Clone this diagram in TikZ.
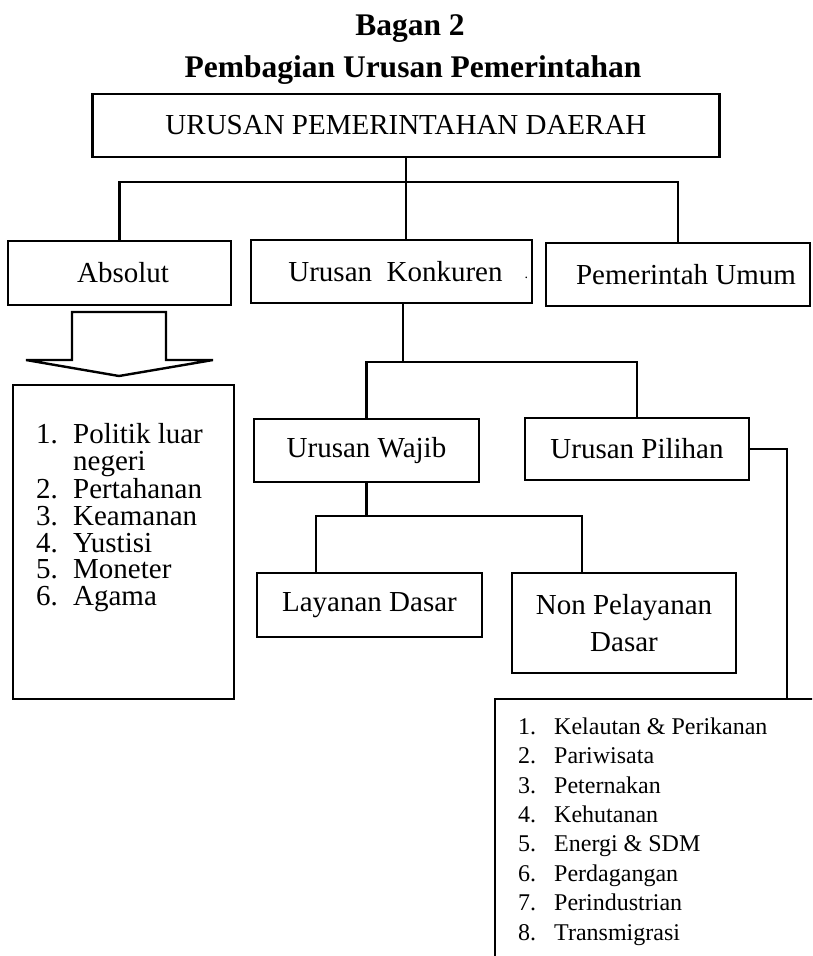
\documentclass[tikz,border=0pt]{standalone}
\usepackage{fontspec}
\setmainfont{Liberation Serif}
\usetikzlibrary{positioning}

\begin{document}
\begin{tikzpicture}[x=1pt, y=-1pt,
        kotak/.style={draw, line width=2.4pt, inner sep=0pt, font=\fontsize{29}{30}\selectfont},
        daftar/.style={draw, line width=2.4pt, inner sep=0pt, anchor=north west},
        garis/.style={line width=2.4pt}
    ]
        \useasboundingbox (0,0) rectangle (812,956);
        \clip (0,0) rectangle (812,956);

        % --- judul ---
        \node[anchor=base, font=\fontsize{31.5}{32}\selectfont\bfseries] (judul) at (410,35) {Bagan 2};
        \node[anchor=base, font=\fontsize{31.5}{32}\selectfont\bfseries] (subjudul) at (413,77) {Pembagian Urusan Pemerintahan};

        % --- kotak-kotak ---
        \node[kotak, minimum width=627pt, minimum height=63pt] (daerah) at (406,125.5) {URUSAN PEMERINTAHAN DAERAH};
        \node[kotak, minimum width=223pt, minimum height=64pt] (absolut) at (119.5,273) {\hspace*{7pt}Absolut};
        \node[kotak, minimum width=281pt, minimum height=63pt] (konkuren) at (391.5,271.5)
            {\hspace*{8pt}Urusan\ \ Konkuren\rlap{\hspace{22pt}\raisebox{3pt}{\fontsize{14}{14}\selectfont.}}};
        \node[kotak, minimum width=264pt, minimum height=63pt] (umum) at (678,274.5) {\hspace*{16pt}Pemerintah Umum};
        \node[kotak, minimum width=225pt, minimum height=63pt] (wajib) at (366.5,450.5) {Urusan Wajib};
        \node[kotak, minimum width=224pt, minimum height=62pt] (pilihan) at (637,449) {Urusan Pilihan};
        \node[kotak, minimum width=225pt, minimum height=64pt] (layanan) at (369.5,605) {Layanan Dasar};
        \node[kotak, minimum width=224pt, minimum height=100pt, align=center,
              font=\fontsize{29}{37}\selectfont] (nonlayanan) at (624,623) {Non Pelayanan\\Dasar};

        % --- daftar urusan ---
        \node[daftar, text height=58pt, text depth=256pt, font=\fontsize{29}{26}\selectfont] (isiabsolut) at (12,384)
            {\begin{tabular}[t]{@{\hspace{23pt}}p{37pt}@{}p{161pt}@{}}
                1. & Politik luar\\
                   & negeri\\
                2. & Pertahanan\\
                3. & Keamanan\\
                4. & Yustisi\\
                5. & Moneter\\
                6. & Agama
            \end{tabular}};
        \node[daftar, text height=35pt, text depth=262pt, font=\fontsize{24}{29.4}\selectfont] (isipilihan) at (494,698)
            {\begin{tabular}[t]{@{\hspace{23pt}}p{36pt}@{}p{320pt}@{}}
                1. & Kelautan \& Perikanan\\
                2. & Pariwisata\\
                3. & Peternakan\\
                4. & Kehutanan\\
                5. & Energi \& SDM\\
                6. & Perdagangan\\
                7. & Perindustrian\\
                8. & Transmigrasi
            \end{tabular}};

        % --- panah blok ---
        \draw[garis, line join=miter] (72,312) -- (166,312) -- (166,360) -- (213,360)
            -- (119,376) -- (26,360) -- (72,360) -- cycle;

        % --- garis penghubung ---
        \coordinate (bus1) at (406,182);
        \draw[garis] (daerah.south) -- (daerah.south |- konkuren.north);
        \draw[garis] (absolut.north) |- (bus1) -| (umum.north);

        \coordinate (bus2) at (403,362);
        \draw[garis] (bus2 |- konkuren.south) -- (bus2);
        \draw[garis] (wajib.north) |- (bus2) -| (pilihan.north);

        \coordinate (cabkiri) at (316,516);
        \coordinate (cabkanan) at (582,516);
        \draw[garis] (wajib.south) -- (wajib.south |- cabkiri);
        \draw[garis] (layanan.north -| cabkiri) -- (cabkiri) -- (cabkanan) -- (nonlayanan.north -| cabkanan);

        \coordinate (belok) at (787,449);
        \draw[line width=1.5pt] (pilihan.east) -- (belok) -- (belok |- isipilihan.north);

    \end{tikzpicture}
\end{document}
